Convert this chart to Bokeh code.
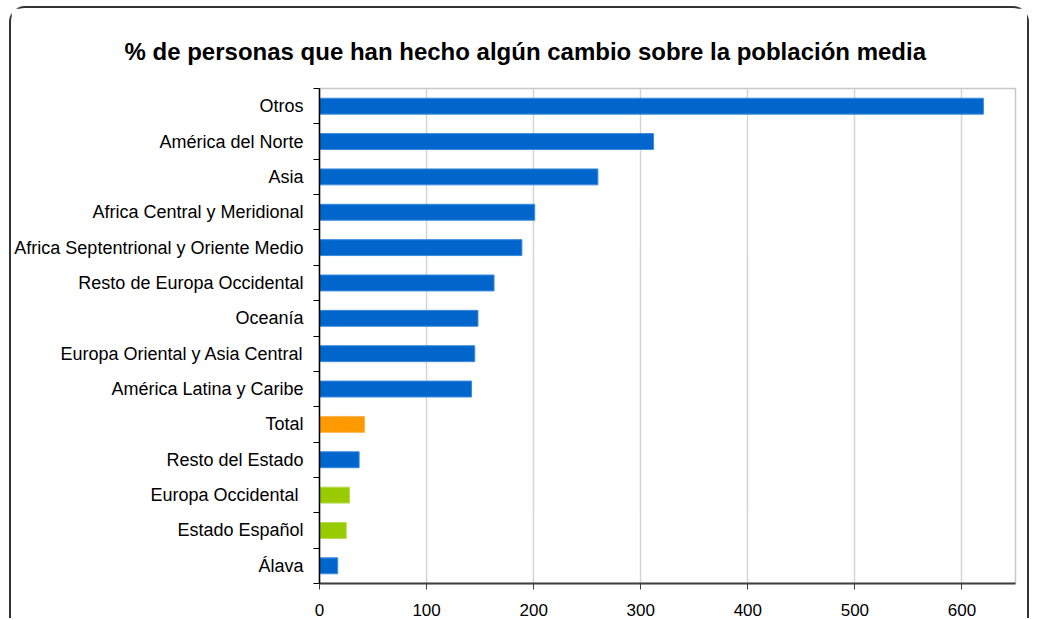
from bokeh.plotting import figure
from bokeh.models import ColumnDataSource, FixedTicker, Range1d, InlineStyleSheet
from bokeh.embed import file_html
from bokeh.resources import INLINE

categories = [
    "Otros",
    "América del Norte",
    "Asia",
    "Africa Central y Meridional",
    "Africa Septentrional y Oriente Medio",
    "Resto de Europa Occidental",
    "Oceanía",
    "Europa Oriental y Asia Central",
    "América Latina y Caribe",
    "Total",
    "Resto del Estado",
    "Europa Occidental ",
    "Estado Español",
    "Álava",
]
values = [620, 312, 260, 201, 189, 163, 148, 145, 142, 42, 37, 28, 25, 17]
groups = ["region"] * 9 + ["total", "region", "europe", "europe", "region"]
group_fill = {"region": "#0066CC", "total": "#FF9900", "europe": "#99CC00"}
group_line = {"region": "#3D8BDB", "total": "#FFB44D", "europe": "#B5DB4D"}
x_ticks = [0, 100, 200, 300, 400, 500, 600]
title_text = "% de personas que han hecho algún cambio sobre la población media"

n = len(categories)
ypos = [n - 1 - i for i in range(n)]
src = ColumnDataSource(dict(
    y=ypos, v=values, cat=categories,
    fill=[group_fill[g] for g in groups],
    line=[group_line[g] for g in groups],
))

W, H = 1020, 612
p = figure(width=W, height=H, output_backend="svg", toolbar_location=None,
           x_range=Range1d(0, 650), y_range=Range1d(-0.5, n - 0.5),
           min_border_left=304, min_border_right=16, min_border_top=80,
           min_border_bottom=37)

p.stylesheets = [InlineStyleSheet(css=":host { margin: 6px 0 0 9px; border: 2px solid #333333; border-bottom: none; border-radius: 16px 16px 0 0; }")]

p.title.text = title_text
p.title.text_font = "Liberation Sans"
p.title.text_font_style = "bold"
p.title.text_font_size = "24px"
p.title.text_color = "#000000"
p.title.align = "left"
p.title.offset = -195
p.title.vertical_align = "bottom"
p.title.standoff = 48

p.hbar(y="y", right="v", left=0, height=0.45, source=src,
       fill_color="fill", line_color="line", line_width=1)

# y axis: labels at centres, tick marks at category boundaries
p.yaxis.ticker = FixedTicker(ticks=ypos, minor_ticks=[i - 0.5 for i in range(n + 1)])
p.yaxis.major_label_overrides = {y: c for y, c in zip(ypos, categories)}
p.yaxis.major_tick_out = 0
p.yaxis.major_tick_in = 0
p.yaxis.minor_tick_out = 6
p.yaxis.minor_tick_in = 0
p.yaxis.minor_tick_line_color = "#000000"
p.yaxis.minor_tick_line_width = 1
p.yaxis.axis_line_color = "#000000"
p.yaxis.axis_line_width = 1.5
p.yaxis.major_label_text_font = "Liberation Sans"
p.yaxis.major_label_text_font_size = "18px"
p.yaxis.major_label_text_color = "#000000"
p.yaxis.major_label_standoff = 10

p.xaxis.ticker = FixedTicker(ticks=x_ticks)
p.xaxis.minor_tick_line_color = None
p.xaxis.major_tick_out = 6
p.xaxis.major_tick_in = 0
p.xaxis.major_tick_line_color = "#404040"
p.xaxis.axis_line_color = "#404040"
p.xaxis.axis_line_width = 2
p.xaxis.major_label_text_font = "Liberation Sans"
p.xaxis.major_label_text_font_size = "17px"
p.xaxis.major_label_text_color = "#000000"
p.xaxis.major_label_standoff = 14

p.ygrid.grid_line_color = None
p.xgrid.ticker = FixedTicker(ticks=x_ticks)
p.xgrid.grid_line_color = "#D4D4D4"
p.xgrid.grid_line_width = 1.5

p.outline_line_color = "#C8C8C8"
p.outline_line_width = 1.5

open("out.html", "w").write(file_html(p, INLINE))
